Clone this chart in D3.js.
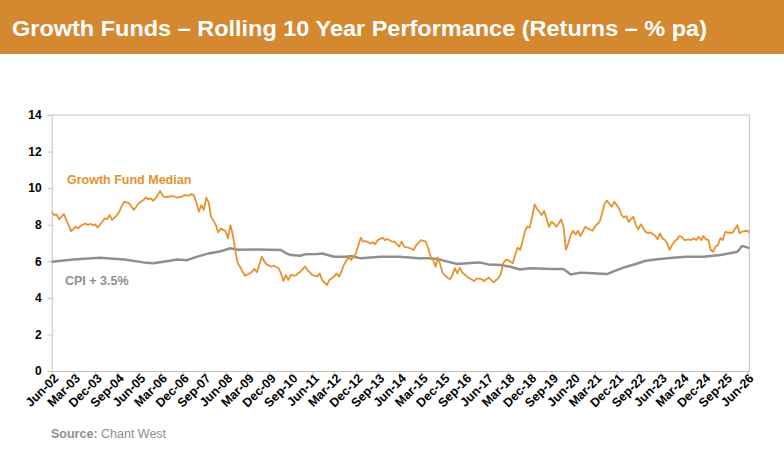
<!DOCTYPE html>
<html>
<head>
<meta charset="utf-8">
<script src="https://cdn.jsdelivr.net/npm/d3@7"></script>
<style>
  body { margin: 0; background: #fff; }
  svg { display: block; font-family: "Liberation Sans", Arial, sans-serif; }
</style>
</head>
<body>
<div class="chart"></div>
<script>
var width = 784;
var height = 472;

// months counted from Jun-02
var fundMonths = [0,1,2,3,5,6,7,8,10,11,12,14,15,16,17,18,19,21,22,23,24,25,27,28,29,30,32,34,36,38,39,40,41,42,43,45,46,47,50,51,52,54,55,57,58,59,60,61,62,63,64,65,66,68,69,70,72,73,74,75,76,77,78,79,80,82,83,84,85,86,87,88,89,91,92,94,95,96,97,98,99,101,102,103,105,106,108,110,111,112,114,115,117,118,119,120,121,123,124,126,127,128,129,130,132,133,134,135,137,138,139,141,142,144,145,146,148,150,151,153,155,156,157,158,159,160,161,162,164,165,166,167,168,169,170,172,173,175,176,178,179,181,182,183,185,186,187,188,189,191,192,193,194,195,196,197,198,199,200,201,203,204,205,206,207,208,209,210,211,212,213,214,215,216,217,218,219,221,222,224,225,227,228,229,230,232,233,235,236,237,238,239,241,242,243,244,246,247,248,250,251,252,253,254,255,256,257,258,259,260,261,262,264,265,266,267,268,269,270,271,272,273,274,275,276,277,278,279,280,282,284,285,286,288,289];
var fundValues = [8.68,8.53,8.57,8.29,8.58,8.26,7.98,7.65,7.89,7.80,7.94,8.07,7.98,8.05,7.98,8.02,7.84,8.16,8.35,8.31,8.53,8.26,8.53,8.71,9.04,9.26,9.17,8.80,9.17,9.35,9.50,9.39,9.44,9.31,9.44,9.84,9.58,9.50,9.57,9.53,9.48,9.53,9.62,9.59,9.68,9.59,9.17,8.71,9.08,8.80,9.48,9.22,8.44,7.98,7.58,7.80,7.65,7.26,7.98,7.44,6.62,5.89,5.70,5.43,5.21,5.34,5.43,5.58,5.40,5.83,6.25,6.01,5.83,5.70,5.76,5.62,5.34,4.92,5.25,4.98,5.25,5.21,5.34,5.43,5.72,5.52,5.25,5.16,5.34,4.98,4.70,4.98,5.16,5.34,5.16,5.43,5.80,6.25,6.07,6.43,6.89,7.29,7.07,7.11,6.98,7.04,6.93,7.16,7.29,7.16,7.22,7.07,7.07,6.80,7.07,6.80,6.74,6.62,6.89,7.16,7.07,6.71,6.25,6.07,5.70,6.20,5.80,5.34,5.10,5.01,5.25,5.62,5.34,5.65,5.40,5.16,5.07,4.92,5.07,5.03,4.92,5.10,4.98,4.85,5.07,5.29,5.89,6.07,6.07,5.89,6.34,6.74,6.62,7.07,7.62,7.89,7.84,8.44,9.11,8.89,8.53,8.75,8.35,7.89,8.16,8.07,7.89,8.07,8.29,7.89,6.62,6.98,7.44,7.67,7.47,7.67,7.38,7.89,7.80,7.67,7.89,8.16,8.62,9.13,9.32,8.98,9.26,8.89,8.53,8.40,8.47,8.16,8.44,7.98,7.75,8.02,7.62,7.53,7.58,7.40,7.20,7.53,7.26,7.16,6.98,6.62,6.89,7.07,7.20,7.38,7.34,7.16,7.20,7.16,7.26,7.16,7.34,7.16,7.38,7.20,7.16,6.62,6.52,6.80,6.89,7.26,7.16,7.62,7.56,7.56,7.98,7.53,7.62,7.67,7.58];

var cpiMonths = [0,9,20,30,38,42,49,52,56,60,65,70,74,77,85,95,97,99,103,105,110,112,117,122,124,128,136,144,152,156,160,164,168,172,177,181,186,190,194,198,207,212,215,219,224,230,234,238,242,246,250,255,260,263,270,277,282,284,286,289];
var cpiValues = [5.98,6.10,6.19,6.10,5.94,5.89,6.03,6.10,6.06,6.24,6.43,6.55,6.71,6.63,6.65,6.62,6.45,6.34,6.30,6.38,6.40,6.43,6.25,6.25,6.29,6.16,6.25,6.25,6.16,6.16,6.12,5.98,5.85,5.89,5.94,5.83,5.80,5.70,5.55,5.62,5.58,5.58,5.28,5.38,5.34,5.30,5.52,5.70,5.85,6.03,6.10,6.16,6.22,6.25,6.25,6.34,6.47,6.52,6.84,6.72];

var tickLabels = ["Jun-02","Mar-03","Dec-03","Sep-04","Jun-05","Mar-06","Dec-06","Sep-07","Jun-08","Mar-09","Dec-09","Sep-10","Jun-11","Mar-12","Dec-12","Sep-13","Jun-14","Mar-15","Dec-15","Sep-16","Jun-17","Mar-18","Dec-18","Sep-19","Jun-20","Mar-21","Dec-21","Sep-22","Jun-23","Mar-24","Dec-24","Sep-25","Jun-26"];
var yTicks = [0, 2, 4, 6, 8, 10, 12, 14];

var startDate = new Date(2002, 5, 1);
var parseLabel = d3.timeParse("%b-%y");

function toPoints(months, values) {
	return months.map(function(m, i) {
		return { date: d3.timeMonth.offset(startDate, m), value: values[i] };
	});
}
var fundData = toPoints(fundMonths, fundValues);
var cpiData = toPoints(cpiMonths, cpiValues);

var svg = d3.select(".chart")
	.append("svg")
	.attr("width", width)
	.attr("height", height);

// header bar
svg.append("rect")
	.attr("width", width)
	.attr("height", 54)
	.attr("fill", "#D4882F");

svg.append("text")
	.attr("x", 12)
	.attr("y", 36)
	.attr("fill", "#fff")
	.attr("font-weight", "bold")
	.attr("font-size", 22)
	.attr("textLength", 695)
	.attr("lengthAdjust", "spacingAndGlyphs")
	.text("Growth Funds \u2013 Rolling 10 Year Performance (Returns \u2013 % pa)");

var x = d3.scaleTime()
	.domain([startDate, d3.timeMonth.offset(startDate, 289)])
	.range([51.7, 749.3]);

var y = d3.scaleLinear()
	.domain([0, 14])
	.range([371, 115]);

// plot frame (top and right)
svg.append("path")
	.attr("d", "M" + x.range()[0] + "," + y(14) + "H" + x.range()[1] + "V" + y(0))
	.attr("fill", "none")
	.attr("stroke", "#c0c0c0");

var xAxis = svg.append("g")
	.attr("transform", "translate(0," + y(0) + ")")
	.call(d3.axisBottom(x)
		.tickValues(tickLabels.map(parseLabel))
		.tickFormat(d3.timeFormat("%b-%y"))
		.tickSize(4)
		.tickSizeOuter(0));

xAxis.selectAll("text")
	.attr("transform", "translate(4,5) rotate(-45)")
	.attr("text-anchor", "end")
	.attr("dy", "0.35em")
	.attr("y", 0)
	.attr("x", 0)
	.attr("font-size", 12.5)
	.attr("font-weight", "bold")
	.attr("font-family", "Liberation Sans, Arial, sans-serif")
	.attr("fill", "#000");

var yAxis = svg.append("g")
	.attr("transform", "translate(" + x.range()[0] + ",0)")
	.call(d3.axisLeft(y)
		.tickValues(yTicks)
		.tickSize(4)
		.tickSizeOuter(0)
		.tickPadding(6));

yAxis.selectAll("text")
	.attr("font-size", 12)
	.attr("font-weight", "bold")
	.attr("font-family", "Liberation Sans, Arial, sans-serif")
	.attr("fill", "#000");

svg.selectAll(".domain, .tick line").attr("stroke", "#c0c0c0");

var line = d3.line()
	.x(function(d) { return x(d.date); })
	.y(function(d) { return y(d.value); });

svg.append("path")
	.datum(cpiData)
	.attr("d", line)
	.attr("fill", "none")
	.attr("stroke", "#8f8f8f")
	.attr("stroke-width", 2.5)
	.attr("stroke-linejoin", "round");

svg.append("path")
	.datum(fundData)
	.attr("d", line)
	.attr("fill", "none")
	.attr("stroke", "#E8922E")
	.attr("stroke-width", 1.8)
	.attr("stroke-linejoin", "round");

// series labels
svg.append("text")
	.attr("x", 67)
	.attr("y", 184)
	.attr("fill", "#E8922E")
	.attr("font-weight", "bold")
	.attr("font-size", 12.5)
	.text("Growth Fund Median");

svg.append("text")
	.attr("x", 65)
	.attr("y", 285)
	.attr("fill", "#8f8f8f")
	.attr("font-weight", "bold")
	.attr("font-size", 12.5)
	.text("CPI + 3.5%");

// source note
var source = svg.append("text")
	.attr("x", 51)
	.attr("y", 438)
	.attr("fill", "#8f8f8f")
	.attr("font-size", 12.5);
source.append("tspan").attr("font-weight", "bold").text("Source:");
source.append("tspan").text(" Chant West");
</script>
</body>
</html>
